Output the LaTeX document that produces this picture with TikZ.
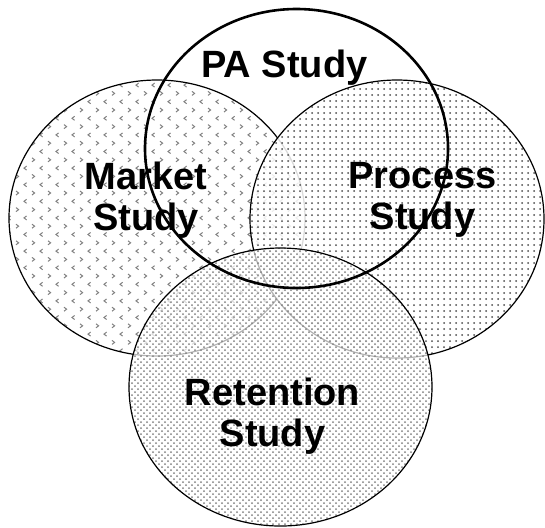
\documentclass[tikz,border=0pt]{standalone}
\usepackage{fontspec}
\setmainfont{Liberation Sans}
\usepackage{tikz}
\usetikzlibrary{patterns}

% Small gray chevrons, rows of > and rows of < in turn
\pgfdeclarepatternformonly{chevrons}{\pgfqpoint{-1pt}{-1pt}}{\pgfqpoint{9pt}{9.3pt}}{\pgfqpoint{8pt}{8.3pt}}{
	\pgfsetlinewidth{0.5pt}
	\pgfsetstrokecolor{black!50}
	% >
	\pgfpathmoveto{\pgfqpoint{0pt}{0pt}}\pgfpathlineto{\pgfqpoint{1.3pt}{1pt}}\pgfpathlineto{\pgfqpoint{0pt}{2pt}}
	% <
	\pgfpathmoveto{\pgfqpoint{5.3pt}{4.15pt}}\pgfpathlineto{\pgfqpoint{4pt}{5.15pt}}\pgfpathlineto{\pgfqpoint{5.3pt}{6.15pt}}
	\pgfusepath{stroke}
}

\begin{document}
\begin{tikzpicture}[x=0.5pt,y=-0.5pt]
		% Styles for the study sets and their labels
		\tikzset{set/.style={draw=black, line width=0.6pt},
			label/.style={font=\fontsize{19}{20.5}\selectfont\bfseries, align=center, inner sep=0pt, anchor=north}}
		
		% Fix the picture size
		\useasboundingbox (0,0) rectangle (545,527);
		
		% Market set
		\draw[set, pattern=chevrons] (157,218) ellipse [x radius=148, y radius=138];
		
		% Process set, almost hiding what lies under it
		\draw[set, preaction={fill=white, fill opacity=0.85}, pattern=dots, pattern color=black!70] (397,219) ellipse [x radius=147, y radius=139];
		
		% Retention set
		\draw[set, preaction={fill=white, fill opacity=0.7}, pattern=crosshatch dots, pattern color=black!50] (280.5,387) ellipse [x radius=151.5, y radius=139];
		
		% PA set: thick outline on top, no fill
		\draw[line width=1.3pt] (296.5,148.5) ellipse [x radius=151.5, y radius=139.5];
		
		% Add labels
		\node[label] (pa) at (284.5,50) {PA Study};
		\node[label] (market) at (146,162) {Market\\Study};
		\node[label] (process) at (422.5,162) {Process\\Study};
		\node[label] (retention) at (272.5,378) {Retention\\Study};
	\end{tikzpicture}
\end{document}
